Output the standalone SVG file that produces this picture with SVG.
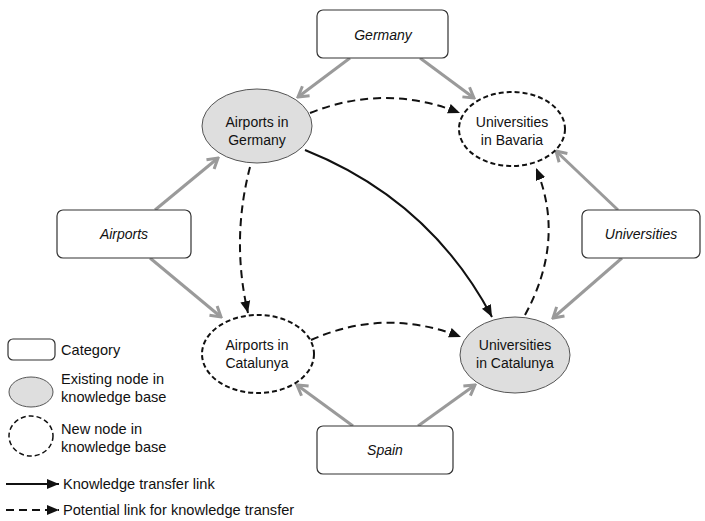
<svg xmlns="http://www.w3.org/2000/svg" width="705" height="521" viewBox="0 0 705 521">
  <style>
    text { font-family: "Liberation Sans", Arial, sans-serif; font-size: 14px; fill: #111; }
    .cat rect { fill: #fff; stroke: #333; stroke-width: 1.2; }
    .cat text { font-style: italic; text-anchor: middle; }
    .node text { text-anchor: middle; }
    #legend text { font-size: 14.6px; }
    .existing { fill: #dedede; stroke: #555; stroke-width: 1; }
    .newnode { fill: #fff; stroke: #111; stroke-width: 2; stroke-dasharray: 5 3; }
    .member { fill: none; stroke: #9a9a9a; stroke-width: 3; marker-end: url(#openHead); }
    .transfer { fill: none; stroke: #111; stroke-width: 2; marker-end: url(#solidHead); }
    .potential { fill: none; stroke: #111; stroke-width: 2; stroke-dasharray: 8 5; marker-end: url(#solidHead); }
  </style>
  <defs>
    <marker id="openHead" markerUnits="userSpaceOnUse" viewBox="-14 -9 16 18" refX="0" refY="0" markerWidth="16" markerHeight="18" orient="auto">
      <path d="M-10,-6 L0,0 L-10,6" fill="none" stroke="#9a9a9a" stroke-width="3"/>
    </marker>
    <marker id="solidHead" markerUnits="userSpaceOnUse" viewBox="-12 -6 13 12" refX="0" refY="0" markerWidth="13" markerHeight="12" orient="auto">
      <path d="M-12,-5 L0,0 L-12,5 Z" fill="#111"/>
    </marker>
  </defs>

  <!-- connectors -->
  <g id="connectors">
    <!-- category membership -->
    <path class="member" d="M350,58 L298,97"/>
    <path class="member" d="M420,58 L474,98"/>
    <path class="member" d="M155,210 L218,158"/>
    <path class="member" d="M150,258 L221,317"/>
    <path class="member" d="M618,210 L556,151"/>
    <path class="member" d="M622,258 L553,318"/>
    <path class="member" d="M353,426 L297,385"/>
    <path class="member" d="M418,426 L475,385"/>
    <!-- knowledge transfer -->
    <path class="transfer" d="M305,150 Q430,200 492,317"/>
    <!-- potential transfer -->
    <path class="potential" d="M310,113 Q385,83 460,113"/>
    <path class="potential" d="M250,167 Q231,240 248,313"/>
    <path class="potential" d="M311,340 Q385,307 461,337"/>
    <path class="potential" d="M525,315 Q566,240 536,168"/>
  </g>

  <!-- categories -->
  <g id="germany" class="cat">
    <rect x="317" y="10" width="131" height="48" rx="6"/>
    <text x="383" y="40">Germany</text>
  </g>
  <g id="airports" class="cat">
    <rect x="57" y="210" width="134" height="48" rx="6"/>
    <text x="124" y="239">Airports</text>
  </g>
  <g id="universities" class="cat">
    <rect x="582" y="210" width="118" height="48" rx="6"/>
    <text x="641" y="239">Universities</text>
  </g>
  <g id="spain" class="cat">
    <rect x="317" y="426" width="136" height="48" rx="6"/>
    <text x="385" y="455">Spain</text>
  </g>

  <!-- knowledge base nodes -->
  <g id="airports-germany" class="node">
    <ellipse class="existing" cx="257" cy="126" rx="55" ry="37"/>
    <text x="257" y="127">Airports in</text>
    <text x="257" y="145">Germany</text>
  </g>
  <g id="universities-bavaria" class="node">
    <ellipse class="newnode" cx="512" cy="129" rx="53" ry="37"/>
    <text x="512" y="127">Universities</text>
    <text x="512" y="145">in Bavaria</text>
  </g>
  <g id="airports-catalunya" class="node">
    <ellipse class="newnode" cx="258" cy="354" rx="56" ry="39"/>
    <text x="257" y="350">Airports in</text>
    <text x="257" y="368">Catalunya</text>
  </g>
  <g id="universities-catalunya" class="node">
    <ellipse class="existing" cx="515" cy="355" rx="55" ry="38"/>
    <text x="515" y="350">Universities</text>
    <text x="515" y="368">in Catalunya</text>
  </g>

  <!-- legend -->
  <g id="legend">
    <rect x="8" y="339" width="47" height="21" rx="5" fill="#fff" stroke="#333" stroke-width="1.2"/>
    <text x="61" y="355">Category</text>
    <ellipse class="existing" cx="31" cy="392" rx="22" ry="15"/>
    <text x="61" y="384">Existing node in</text>
    <text x="61" y="402">knowledge base</text>
    <ellipse cx="31" cy="436" rx="22" ry="20" fill="#fff" stroke="#111" stroke-width="1.5" stroke-dasharray="5 3"/>
    <text x="61" y="434">New node in</text>
    <text x="61" y="452">knowledge base</text>
    <path d="M6,484 L59,484" fill="none" stroke="#111" stroke-width="2" marker-end="url(#solidHead)"/>
    <text x="63" y="489">Knowledge transfer link</text>
    <path d="M6,510 L59,510" fill="none" stroke="#111" stroke-width="2" stroke-dasharray="8 5" marker-end="url(#solidHead)"/>
    <text x="63" y="515">Potential link for knowledge transfer</text>
  </g>
</svg>
